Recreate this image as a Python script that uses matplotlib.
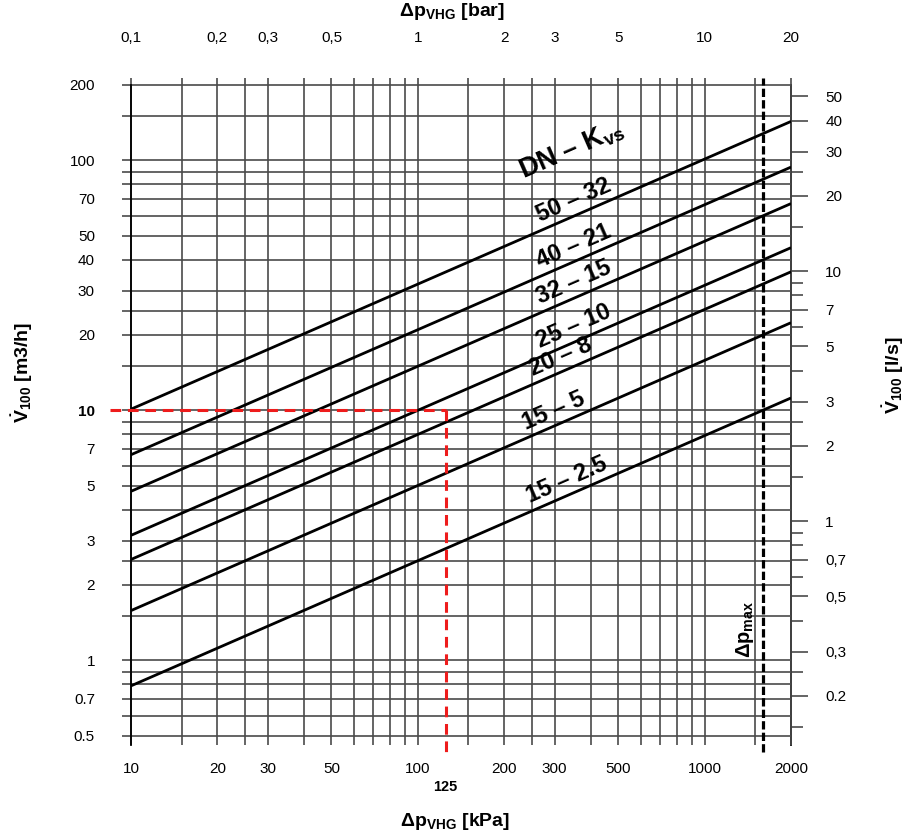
import math

import matplotlib
matplotlib.use("Agg")
import matplotlib.pyplot as plt
import matplotlib.transforms as mtransforms

plt.rcParams["font.family"] = ["Liberation Sans", "DejaVu Sans"]
plt.rcParams["mathtext.fontset"] = "custom"
plt.rcParams["mathtext.rm"] = "Liberation Sans"
plt.rcParams["mathtext.bf"] = "Liberation Sans:bold"
plt.rcParams["mathtext.it"] = "Liberation Sans:italic"

# valve lines: DN - Kvs, flow [m3/h] read at 10 kPa and at 2000 kPa
dn_names = ["50", "40", "32", "25", "20", "15", "15"]
kvs_names = ["32", "21", "15", "10", "8", "5", "2.5"]
dp_ends = [10, 2000]
flow_at_10 = [10.1, 6.64, 4.74, 3.16, 2.53, 1.58, 0.79]
flow_at_2000 = [143, 93.9, 67.1, 44.7, 35.8, 22.4, 11.2]
label_dp = [367, 367, 367, 367, 330, 312, 347]

# example reading and max pressure drop
dp_example = 125
flow_example = 10
dp_max = 1600

# grid and tick values
x_grid = [10, 15, 20, 25, 30, 40, 50, 60, 70, 80, 90, 100, 150, 200, 250, 300,
          400, 500, 600, 700, 800, 900, 1000, 1500, 2000]
x_labels = [10, 20, 30, 50, 100, 200, 300, 500, 1000, 2000]
y_grid = [0.5, 0.6, 0.7, 0.8, 0.9, 1, 1.5, 2, 2.5, 3, 4, 5, 6, 7, 8, 9, 10, 15,
          20, 25, 30, 40, 50, 60, 70, 80, 90, 100, 150, 200]
y_labels = {0.5: "0.5", 0.7: "0.7", 1: "1", 2: "2", 3: "3", 5: "5", 7: "7",
            10: "10", 20: "20", 30: "30", 40: "40", 50: "50", 70: "70",
            100: "100", 200: "200"}
bar_ticks = [0.1, 0.2, 0.3, 0.5, 1, 2, 3, 5, 10, 20]
bar_labels = ["0,1", "0,2", "0,3", "0,5", "1", "2", "3", "5", "10", "20"]
ls_major = [50, 40, 30, 20, 10, 7, 5, 3, 2, 1, 0.7, 0.5, 0.3, 0.2]
ls_major_labels = ["50", "40", "30", "20", "10", "7", "5", "3", "2", "1",
                   "0,7", "0,5", "0,3", "0.2"]
ls_minor = [25, 15, 9, 8, 6, 4, 2.5, 1.5, 0.9, 0.8, 0.6, 0.4, 0.25, 0.15]

W, H = 914, 836
fig = plt.figure(figsize=(W / 100, H / 100), dpi=100)
ax = fig.add_axes([131 / W, 1 - 745 / H, 660 / W, 660 / H])
ax.set_xscale("log")
ax.set_yscale("log")
ax.set_xlim(10, 2000)
ax.set_ylim(200 / 10 ** 2.64, 200)

grid_color = "#4a4a4a"
ax.hlines(y_grid, 10, 2000, color=grid_color, lw=1.2, clip_on=False, zorder=1)
ax.vlines(x_grid, ax.get_ylim()[0], 200, color=grid_color, lw=1.2, clip_on=False, zorder=1)

for side in ["top", "bottom", "right"]:
    ax.spines[side].set_visible(False)
ax.spines["left"].set_color("black")
ax.spines["left"].set_linewidth(1.3)
ax.spines["left"].set_zorder(2)

ax.set_xticks(x_grid)
ax.set_xticklabels([str(v) if v in x_labels else "" for v in x_grid], fontsize=11)
ax.xaxis.set_minor_locator(matplotlib.ticker.NullLocator())
ax.tick_params(axis="x", which="major", bottom=True, top=True, direction="out",
               length=0, pad=12, color=grid_color, width=1.2)
for t in ax.xaxis.get_major_ticks():
    t.tick2line.set_markersize(5)

ax.set_yticks(y_grid)
ax.set_yticklabels([y_labels.get(v, "") for v in y_grid], fontsize=11)
ax.yaxis.set_minor_locator(matplotlib.ticker.NullLocator())
ax.tick_params(axis="y", which="major", left=True, direction="out", length=6.5,
               pad=19.5, color=grid_color, width=1.2)
for lab, v in zip(ax.get_yticklabels(), y_grid):
    if v == flow_example:
        lab.set_fontweight("bold")

# top axis in bar
top = ax.secondary_xaxis("top", functions=(lambda x: x / 100, lambda b: b * 100))
top.set_xticks(bar_ticks)
top.set_xticklabels(bar_labels, fontsize=11)
top.xaxis.set_minor_locator(matplotlib.ticker.NullLocator())
top.tick_params(length=0, pad=29)
top.spines["top"].set_visible(False)

# right axis in l/s
right = ax.secondary_yaxis("right", functions=(lambda q: q / 3.6, lambda q: q * 3.6))
right.set_yticks(ls_major)
right.set_yticklabels(ls_major_labels, fontsize=11)
right.set_yticks(ls_minor, minor=True)
right.tick_params(which="major", direction="out", length=12.2, pad=12.5,
                  color=grid_color, width=1.2)
right.tick_params(which="minor", direction="out", length=8.6, color=grid_color,
                  width=1.2, labelright=False)
right.spines["right"].set_color("black")
right.spines["right"].set_linewidth(1.3)

# valve lines
for f0, f1 in zip(flow_at_10, flow_at_2000):
    ax.plot(dp_ends, [f0, f1], color="black", lw=2.0, solid_capstyle="butt", zorder=3)

# labels along lines
for dn, kvs, f0, f1, xl in zip(dn_names, kvs_names, flow_at_10, flow_at_2000, label_dp):
    p0 = ax.transData.transform((dp_ends[0], f0))
    p1 = ax.transData.transform((dp_ends[1], f1))
    ang = math.degrees(math.atan2(p1[1] - p0[1], p1[0] - p0[0]))
    frac = math.log10(xl / dp_ends[0]) / math.log10(dp_ends[1] / dp_ends[0])
    yl = 10 ** (math.log10(f0) + frac * (math.log10(f1) - math.log10(f0)))
    off = mtransforms.offset_copy(ax.transData, fig=fig,
                                  x=-2.0 * math.sin(math.radians(ang)),
                                  y=2.0 * math.cos(math.radians(ang)), units="points")
    ax.text(xl, yl, f"{dn} \u2013 {kvs}", transform=off, rotation=ang,
            rotation_mode="anchor", ha="center", va="bottom", fontsize=17,
            fontweight="bold", zorder=4)

ax.text(343, 110, "$\\mathbf{DN\\ \u2013\\ K_{vs}}$", rotation=ang, rotation_mode="anchor",
        ha="center", va="center", fontsize=19.5, zorder=4)

# example reading (red) and max pressure drop (black)
y_low = 200 / 10 ** (667 / 250)
ax.plot([8.45, dp_example], [flow_example, flow_example], color="#ee1c1c", lw=2.2,
        dashes=(3.5, 2.2), clip_on=False, zorder=5)
ax.plot([dp_example, dp_example], [flow_example, y_low], color="#ee1c1c", lw=2.2,
        dashes=(3.5, 2.2), clip_on=False, zorder=5)
ax.plot([dp_max, dp_max], [y_low, 200 * 10 ** (7 / 250)], color="black", lw=2.3,
        dashes=(2.6, 1.0), clip_on=False, zorder=5)
ax.text(1384, 1.33, r"$\mathbf{\Delta p_{max}}$", rotation=90, ha="center",
        va="center", fontsize=14.5, zorder=4)
ax.annotate(str(dp_example), xy=(dp_example, 0), xycoords=("data", "axes fraction"),
            xytext=(0, -30), textcoords="offset points", ha="center", va="center",
            fontsize=10.5, fontweight="bold")

# axis titles
fig.text(452 / W, 1 - 12 / H, r"$\mathbf{\Delta p_{VHG}}$ [bar]", ha="center",
         va="center", fontsize=14, fontweight="bold")
fig.text(455 / W, 1 - 822 / H, r"$\mathbf{\Delta p_{VHG}}$ [kPa]", ha="center",
         va="center", fontsize=14, fontweight="bold")
fig.text(22 / W, 1 - 372 / H, r"$\mathbf{\dot{V}_{100}}$ [m3/h]", ha="center",
         va="center", rotation=90, fontsize=14, fontweight="bold")
fig.text(893 / W, 1 - 375 / H, r"$\mathbf{\dot{V}_{100}}$ [l/s]", ha="center",
         va="center", rotation=90, fontsize=14, fontweight="bold")

fig.savefig("out.png", dpi=100)
